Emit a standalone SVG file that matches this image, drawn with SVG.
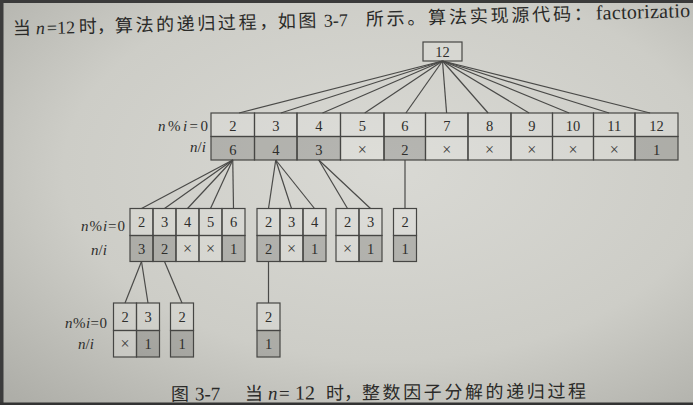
<svg xmlns="http://www.w3.org/2000/svg" width="693" height="405" viewBox="0 0 693 405">
<defs>
<radialGradient id="paper" cx="0.56" cy="0.42" r="0.78">
<stop offset="0" stop-color="#d9d9d4"/>
<stop offset="0.6" stop-color="#cdcdc7"/>
<stop offset="1" stop-color="#aeaea8"/>
</radialGradient>
<style>
.c{fill:#ffffff;fill-opacity:0.13;stroke:#464644;stroke-width:1.2}
.d{fill:#000000;fill-opacity:0.16;stroke:#464644;stroke-width:1.2}
.ln{stroke:#4a4a48;stroke-width:1.2;fill:none}
.n{font-family:"Liberation Serif",serif;font-size:14.5px;fill:#2e2e2c;text-anchor:middle}
.x{font-family:"Liberation Serif",serif;font-size:16px;fill:#3a3a38;text-anchor:middle}
.lb{font-family:"Liberation Serif",serif;font-size:15px;fill:#2e2e2c}
.it{font-style:italic}
.cj{font-family:"Noto Sans CJK SC",sans-serif;font-size:18px;fill:#2a2a28}
.sp{letter-spacing:2.6px}
.lt{font-family:"Liberation Serif",serif;font-size:18px;fill:#2a2a28}
</style>
</defs>
<rect x="0" y="0" width="693" height="405" fill="url(#paper)"/>
<rect x="0" y="0" width="693" height="3" fill="#3a3a3a"/>
<rect x="0" y="0" width="3.5" height="405" fill="#3c3c3c"/>
<rect x="0" y="402.5" width="693" height="2.5" fill="#333333"/>

<g id="heading" transform="rotate(-1.5 350 26)">
<text class="cj" x="13" y="26">当</text>
<text class="lt it" x="36" y="26">n</text>
<text class="lt" x="47" y="26">=12</text>
<text class="cj" x="79" y="26">时</text>
<text class="cj" x="97" y="26">，</text>
<text class="cj sp" x="115" y="26">算法的递归过程</text>
<text class="cj" x="259.5" y="26">，</text>
<text class="cj sp" x="278" y="26">如图</text>
<text class="lt" x="324" y="26">3-7</text>
<text class="cj" x="366" y="26" style="letter-spacing:2.8px">所示。算法实现源代码：</text>
<text class="lt" x="596" y="26" style="font-size:20px;letter-spacing:0.3px">factorizatio</text>
</g>

<g id="connectors">
<line class="ln" x1="442.5" y1="61" x2="239" y2="113"/>
<line class="ln" x1="442.5" y1="61" x2="280.8" y2="113"/>
<line class="ln" x1="442.5" y1="61" x2="322.5" y2="113"/>
<line class="ln" x1="442.5" y1="61" x2="364.7" y2="113"/>
<line class="ln" x1="442.5" y1="61" x2="405.9" y2="113"/>
<line class="ln" x1="442.5" y1="61" x2="446.6" y2="113"/>
<line class="ln" x1="442.5" y1="61" x2="488.1" y2="113"/>
<line class="ln" x1="442.5" y1="61" x2="529.1" y2="113"/>
<line class="ln" x1="442.5" y1="61" x2="569.1" y2="113"/>
<line class="ln" x1="442.5" y1="61" x2="609.1" y2="113"/>
<line class="ln" x1="442.5" y1="61" x2="650.1" y2="113"/>

<line class="ln" x1="232.75" y1="160" x2="141.5" y2="208.5"/>
<line class="ln" x1="232.75" y1="160" x2="164.5" y2="208.5"/>
<line class="ln" x1="232.75" y1="160" x2="187.5" y2="208.5"/>
<line class="ln" x1="232.75" y1="160" x2="210.5" y2="208.5"/>
<line class="ln" x1="232.75" y1="160" x2="233.5" y2="208.5"/>

<line class="ln" x1="275.75" y1="160" x2="268.5" y2="208.5"/>
<line class="ln" x1="275.75" y1="160" x2="291.5" y2="208.5"/>
<line class="ln" x1="275.75" y1="160" x2="314.5" y2="208.5"/>

<line class="ln" x1="318.75" y1="160" x2="347.5" y2="208.5"/>
<line class="ln" x1="318.75" y1="160" x2="370.5" y2="208.5"/>

<line class="ln" x1="405" y1="160" x2="405" y2="208.5"/>

<line class="ln" x1="141.5" y1="261.5" x2="125" y2="303"/>
<line class="ln" x1="141.5" y1="261.5" x2="148" y2="303"/>
<line class="ln" x1="164.5" y1="261.5" x2="182" y2="303"/>
<line class="ln" x1="268.5" y1="261.5" x2="268.5" y2="303"/>
</g>

<g id="node-root">
<rect class="c" x="423" y="42" width="39" height="19"/>
<text class="n" x="442.5" y="56.5">12</text>
</g>

<g id="labels">
<text class="lb" x="158" y="131" textLength="50" lengthAdjust="spacing"><tspan class="it">n</tspan>%<tspan class="it">i</tspan>=0</text>
<text class="lb" x="190" y="151.5"><tspan class="it">n</tspan>/<tspan class="it">i</tspan></text>
<text class="lb" x="81" y="231" textLength="44" lengthAdjust="spacing"><tspan class="it">n</tspan>%<tspan class="it">i</tspan>=0</text>
<text class="lb" x="91" y="254.5"><tspan class="it">n</tspan>/<tspan class="it">i</tspan></text>
<text class="lb" x="65" y="328" textLength="42" lengthAdjust="spacing"><tspan class="it">n</tspan>%<tspan class="it">i</tspan>=0</text>
<text class="lb" x="78" y="349"><tspan class="it">n</tspan>/<tspan class="it">i</tspan></text>
</g>

<g id="node-level1">
<rect class="c" x="211" y="113" width="43.5" height="23.5"/>
<rect class="c" x="254.5" y="113" width="42.5" height="23.5"/>
<rect class="c" x="297" y="113" width="43.5" height="23.5"/>
<rect class="c" x="340.5" y="113" width="43.5" height="23.5"/>
<rect class="c" x="384" y="113" width="41.5" height="23.5"/>
<rect class="c" x="425.5" y="113" width="42.5" height="23.5"/>
<rect class="c" x="468" y="113" width="43" height="23.5"/>
<rect class="c" x="511" y="113" width="41.5" height="23.5"/>
<rect class="c" x="552.5" y="113" width="41" height="23.5"/>
<rect class="c" x="593.5" y="113" width="41.5" height="23.5"/>
<rect class="c" x="635" y="113" width="43" height="23.5"/>
<rect class="d" x="211" y="136.5" width="43.5" height="23.5"/>
<rect class="d" x="254.5" y="136.5" width="42.5" height="23.5"/>
<rect class="d" x="297" y="136.5" width="43.5" height="23.5"/>
<rect class="c" x="340.5" y="136.5" width="43.5" height="23.5"/>
<rect class="d" x="384" y="136.5" width="41.5" height="23.5"/>
<rect class="c" x="425.5" y="136.5" width="42.5" height="23.5"/>
<rect class="c" x="468" y="136.5" width="43" height="23.5"/>
<rect class="c" x="511" y="136.5" width="41.5" height="23.5"/>
<rect class="c" x="552.5" y="136.5" width="41" height="23.5"/>
<rect class="c" x="593.5" y="136.5" width="41.5" height="23.5"/>
<rect class="d" x="635" y="136.5" width="43" height="23.5"/>
<text class="n" x="232.75" y="131">2</text>
<text class="n" x="275.75" y="131">3</text>
<text class="n" x="318.75" y="131">4</text>
<text class="n" x="362.25" y="131">5</text>
<text class="n" x="404.75" y="131">6</text>
<text class="n" x="446.75" y="131">7</text>
<text class="n" x="489.5" y="131">8</text>
<text class="n" x="531.75" y="131">9</text>
<text class="n" x="573" y="131">10</text>
<text class="n" x="614.25" y="131">11</text>
<text class="n" x="656.5" y="131">12</text>
<text class="n" x="232.75" y="154.5">6</text>
<text class="n" x="275.75" y="154.5">4</text>
<text class="n" x="318.75" y="154.5">3</text>
<text class="x" x="362.25" y="154.5">×</text>
<text class="n" x="404.75" y="154.5">2</text>
<text class="x" x="446.75" y="154.5">×</text>
<text class="x" x="489.5" y="154.5">×</text>
<text class="x" x="531.75" y="154.5">×</text>
<text class="x" x="573" y="154.5">×</text>
<text class="x" x="614.25" y="154.5">×</text>
<text class="n" x="656.5" y="154.5">1</text>
</g>

<g id="node-level2-a">
<rect class="c" x="130" y="208.5" width="23" height="27"/>
<rect class="c" x="153" y="208.5" width="23" height="27"/>
<rect class="c" x="176" y="208.5" width="23" height="27"/>
<rect class="c" x="199" y="208.5" width="23" height="27"/>
<rect class="c" x="222" y="208.5" width="23" height="27"/>
<rect class="d" x="130" y="235.5" width="23" height="26"/>
<rect class="d" x="153" y="235.5" width="23" height="26"/>
<rect class="c" x="176" y="235.5" width="23" height="26"/>
<rect class="c" x="199" y="235.5" width="23" height="26"/>
<rect class="d" x="222" y="235.5" width="23" height="26"/>
<text class="n" x="141.5" y="227">2</text>
<text class="n" x="164.5" y="227">3</text>
<text class="n" x="187.5" y="227">4</text>
<text class="n" x="210.5" y="227">5</text>
<text class="n" x="233.5" y="227">6</text>
<text class="n" x="141.5" y="253.5">3</text>
<text class="n" x="164.5" y="253.5">2</text>
<text class="x" x="187.5" y="253.5">×</text>
<text class="x" x="210.5" y="253.5">×</text>
<text class="n" x="233.5" y="253.5">1</text>
</g>

<g id="node-level2-b">
<rect class="c" x="257" y="208.5" width="23" height="27"/>
<rect class="c" x="280" y="208.5" width="23" height="27"/>
<rect class="c" x="303" y="208.5" width="23" height="27"/>
<rect class="d" x="257" y="235.5" width="23" height="26"/>
<rect class="c" x="280" y="235.5" width="23" height="26"/>
<rect class="d" x="303" y="235.5" width="23" height="26"/>
<text class="n" x="268.5" y="227">2</text>
<text class="n" x="291.5" y="227">3</text>
<text class="n" x="314.5" y="227">4</text>
<text class="n" x="268.5" y="253.5">2</text>
<text class="x" x="291.5" y="253.5">×</text>
<text class="n" x="314.5" y="253.5">1</text>
</g>

<g id="node-level2-c">
<rect class="c" x="336" y="208.5" width="23" height="27"/>
<rect class="c" x="359" y="208.5" width="23" height="27"/>
<rect class="c" x="336" y="235.5" width="23" height="26"/>
<rect class="d" x="359" y="235.5" width="23" height="26"/>
<text class="n" x="347.5" y="227">2</text>
<text class="n" x="370.5" y="227">3</text>
<text class="x" x="347.5" y="253.5">×</text>
<text class="n" x="370.5" y="253.5">1</text>
</g>

<g id="node-level2-d">
<rect class="c" x="393.5" y="208.5" width="23" height="27"/>
<rect class="d" x="393.5" y="235.5" width="23" height="26"/>
<text class="n" x="405" y="227">2</text>
<text class="n" x="405" y="253.5">1</text>
</g>

<g id="node-level3-a">
<rect class="c" x="113.5" y="303" width="23" height="27.5"/>
<rect class="c" x="136.5" y="303" width="23" height="27.5"/>
<rect class="c" x="113.5" y="330.5" width="23" height="26.5"/>
<rect class="d" x="136.5" y="330.5" width="23" height="26.5"/>
<text class="n" x="125" y="322">2</text>
<text class="n" x="148" y="322">3</text>
<text class="x" x="125" y="348.5">×</text>
<text class="n" x="148" y="348.5">1</text>
</g>

<g id="node-level3-b">
<rect class="c" x="170.5" y="303" width="23" height="27.5"/>
<rect class="d" x="170.5" y="330.5" width="23" height="26.5"/>
<text class="n" x="182" y="322">2</text>
<text class="n" x="182" y="348.5">1</text>
</g>

<g id="node-level3-c">
<rect class="c" x="257" y="303" width="23" height="27.5"/>
<rect class="d" x="257" y="330.5" width="23" height="26.5"/>
<text class="n" x="268.5" y="322">2</text>
<text class="n" x="268.5" y="348.5">1</text>
</g>

<g id="caption" transform="rotate(-0.4 380 398)">
<text class="cj" x="171" y="399">图</text>
<text class="lt" x="195" y="399" style="font-size:19px">3-7</text>
<text class="cj" x="245" y="399">当</text>
<text class="lt it" x="268" y="399" style="font-size:19px">n</text>
<text class="lt" x="279" y="399" style="font-size:19px">=</text>
<text class="lt" x="295" y="399" style="font-size:20px">12</text>
<text class="cj" x="326" y="399">时</text>
<text class="cj" x="344" y="399">，</text>
<text class="cj sp" x="362" y="399">整数因子分解的递归过程</text>
</g>
</svg>
